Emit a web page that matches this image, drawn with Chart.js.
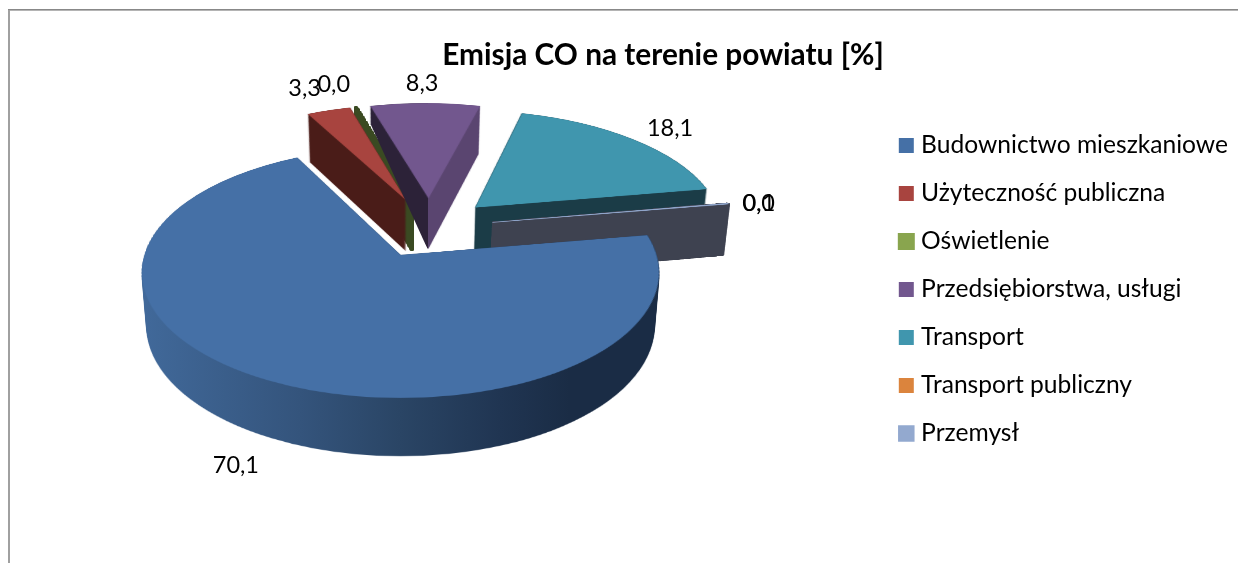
<!DOCTYPE html>
<html><head><meta charset="utf-8">
<style>html,body{margin:0;padding:0;background:#fff}canvas{display:block}</style>
<script src="https://cdn.jsdelivr.net/npm/chart.js@4"></script>
</head><body><canvas id="c" width="1238" height="563"></canvas>
<script>
const titleText = 'Emisja CO na terenie powiatu [%]';
const categories = ['Budownictwo mieszkaniowe','Użyteczność publiczna','Oświetlenie','Przedsiębiorstwa, usługi','Transport','Transport publiczny','Przemysł'];
const shares = [70.1, 3.3, 0.04, 8.3, 18.1, 0.01, 0.1];
const topColors = ['#4570A6','#A8443F','#89A54E','#72578E','#4096AE','#DB843D','#93A9CF'];

const FONT = 'Lato';
// Perspective view of the pie's plane
const P = {x0:400.5, y0:255, a:256, b:123, k:0.14, d:32, c:21, R:258, Cu:0.117, Cv:0.232, shrink:0.018, explode:67};
const paintOrder = [2,1,3,4,5,6,0];
const thinSlices = [2,5,6];
const SRC = 1200, SC = SRC / 2;

function wallFill(ctx, i) {
  const g = ctx.createLinearGradient(0, 0, 1238, 0);
  const stop = (x, c) => g.addColorStop(x / 1238, c);
  if (i === 0) {
    stop(142,'#41699A'); stop(300,'#34547C'); stop(400,'#2A4565'); stop(500,'#203552'); stop(570,'#1A2C45'); stop(660,'#1A2C45');
    return g;
  }
  if (i === 3) { stop(427.5,'#2C2238'); stop(428.5,'#5A4570'); return g; }
  return ['', '#4A1C18', '#3A4A22', '', '#1B3C47', '#7A4A20', '#3E4250'][i];
}
function project(u, v, t) {
  const s = 1 / (1 + P.k * v);
  return {x: P.x0 + P.a * u * s * (1 - P.shrink * t), y: P.y0 - P.b * v * s + t * (P.d * s + P.c)};
}
function rowToV(y, t) {
  const w = y - P.y0 - t * P.c;
  return (t * P.d - w) / (P.b + P.k * w);
}
function drawLayer(target, src, box, t) {
  const vMax = P.Cv - (box.y - SC) / P.R, vMin = P.Cv - (box.y + box.h - SC) / P.R;
  const yA = Math.floor(project(0, vMax, t).y) - 1, yB = Math.ceil(project(0, vMin, t).y) + 1;
  for (let y = yA; y <= yB; y++) {
    const v0 = rowToV(y, t), v1 = rowToV(y + 1, t);
    let sy0 = SC - (v0 - P.Cv) * P.R, sy1 = SC - (v1 - P.Cv) * P.R;
    sy0 = Math.max(sy0, box.y); sy1 = Math.min(sy1, box.y + box.h);
    if (sy1 <= sy0) continue;
    const vm = (v0 + v1) / 2;
    const S = (1 - P.shrink * t) / (1 + P.k * vm);
    const left = P.x0 + P.a * (P.Cu + (box.x - SC) / P.R) * S;
    target.drawImage(src, box.x, sy0, box.w, sy1 - sy0, left, y, box.w * P.a / P.R * S, 1);
  }
}
function arcBox(el) {
  const mid = (el.startAngle + el.endAngle) / 2;
  const cx = SC + P.explode * Math.cos(mid), cy = SC + P.explode * Math.sin(mid);
  let x0 = cx, x1 = cx, y0 = cy, y1 = cy;
  for (let i = 0; i <= 90; i++) {
    const a = el.startAngle + (el.endAngle - el.startAngle) * i / 90;
    const x = cx + P.R * Math.cos(a), y = cy + P.R * Math.sin(a);
    x0 = Math.min(x0, x); x1 = Math.max(x1, x); y0 = Math.min(y0, y); y1 = Math.max(y1, y);
  }
  x0 = Math.max(0, Math.floor(x0 - 4)); y0 = Math.max(0, Math.floor(y0 - 4));
  return {x: x0, y: y0, w: Math.ceil(x1 + 4) - x0, h: Math.ceil(y1 + 4) - y0};
}
const labelNudge = [[-33,85],[-24,-22],[-22,-22],[-3,-20],[37,-11],[31,0],[31,0]];

const pie3d = {
  id: 'pie3d',
  beforeDraw(chart) {
    const c = chart.ctx;
    c.save();
    c.fillStyle = '#fff'; c.fillRect(0, 0, 1238, 563);
    c.fillStyle = '#888888'; c.fillRect(8, 9, 1230, 1);
    c.fillStyle = '#b4b4b4'; c.fillRect(8, 10, 1230, 1);
    c.fillStyle = '#a0a0a0'; c.fillRect(8, 10, 2, 553);
    c.restore();
  },
  beforeDatasetDraw(chart, args) {
    const c = chart.ctx, arcs = args.meta.data;
    const src = document.createElement('canvas'); src.width = SRC; src.height = SRC;
    const sc = src.getContext('2d');
    const wall = document.createElement('canvas'); wall.width = 1238; wall.height = 563;
    const wc = wall.getContext('2d');
    wc.imageSmoothingQuality = 'high';
    c.save();
    c.imageSmoothingQuality = 'high';
    for (const i of paintOrder) {
      const el = arcs[i];
      const mid = (el.startAngle + el.endAngle) / 2;
      sc.clearRect(0, 0, SRC, SRC);
      sc.save();
      sc.translate(SC - el.x + P.explode * Math.cos(mid), SC - el.y + P.explode * Math.sin(mid));
      el.draw(sc);
      sc.restore();
      const box = arcBox(el);
      wc.globalCompositeOperation = 'source-over';
      wc.clearRect(0, 0, 1238, 563);
      for (let n = 60; n >= 0; n--) drawLayer(wc, src, box, n / 60);
      if (thinSlices.includes(i)) for (let n = 0; n < 5; n++) wc.drawImage(wall, 0, 0);
      wc.globalCompositeOperation = 'source-in';
      wc.fillStyle = wallFill(wc, i);
      wc.fillRect(0, 0, 1238, 563);
      if (i === 3) {
        // the reference's left cut face of this slice tapers towards the rim
        wc.globalCompositeOperation = 'destination-out';
        wc.beginPath();
        wc.moveTo(360, 125); wc.lineTo(371, 125); wc.lineTo(428, 250); wc.lineTo(428, 280); wc.lineTo(360, 280);
        wc.closePath();
        wc.fillStyle = '#000';
        wc.fill();
      }
      c.drawImage(wall, 0, 0);
      if (i !== 2) drawLayer(c, src, box, 0);
    }
    c.restore();
    return false;
  },
  afterDatasetsDraw(chart) {
    const c = chart.ctx, arcs = chart.getDatasetMeta(0).data;
    c.save();
    c.font = '23.5px ' + FONT;
    c.fillStyle = '#000';
    c.textAlign = 'center'; c.textBaseline = 'middle';
    arcs.forEach((el, i) => {
      const mid = (el.startAngle + el.endAngle) / 2;
      const e = P.explode / P.R;
      const u = P.Cu + (1 + e) * Math.cos(mid), v = P.Cv - (1 + e) * Math.sin(mid);
      const p = project(u, v, 0);
      const txt = shares[i].toFixed(1).replace('.', ',');
      c.fillText(txt, p.x + labelNudge[i][0], p.y + labelNudge[i][1]);
    });
    c.restore();
  }
};

new Chart(document.getElementById('c'), {
  type: 'pie',
  data: {
    labels: categories,
    datasets: [{
      data: shares,
      backgroundColor: topColors,
      borderColor: topColors,
      borderWidth: [0, 0, 2, 0, 0, 0, 1.5],
      radius: P.R,
      hoverOffset: 0
    }]
  },
  options: {
    responsive: false,
    animation: false,
    devicePixelRatio: 1,
    rotation: 80.5,
    layout: {padding: {left: 88, top: 38, right: 0, bottom: 22}},
    plugins: {
      tooltip: {enabled: false},
      title: {display: true, text: titleText, color: '#000', font: {family: FONT, size: 29.8, weight: 'bold'}, padding: {top: 0, bottom: 0}},
      legend: {
        position: 'right',
        labels: {
          usePointStyle: true, pointStyle: 'rect', boxWidth: 5, boxHeight: 15,
          color: '#000', padding: 23.4, font: {family: FONT, size: 24.6}
        }
      }
    }
  },
  plugins: [pie3d]
});
</script></body></html>
